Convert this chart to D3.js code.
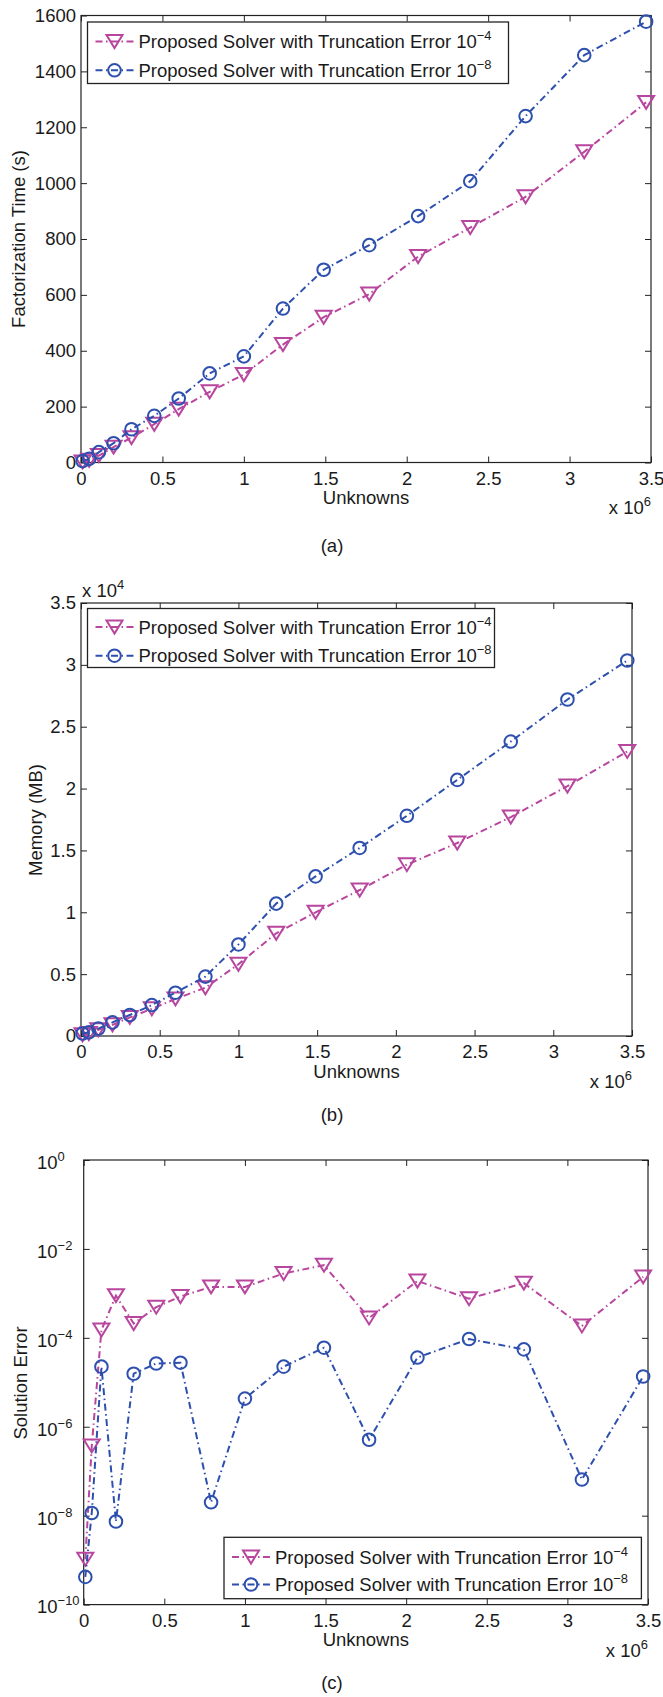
<!DOCTYPE html>
<html>
<head>
<meta charset="utf-8">
<script src="https://cdn.jsdelivr.net/npm/d3@7"></script>
<style>
  body { margin: 0; background: #fff; }
  text { font-family: "Liberation Sans", Arial, Helvetica, sans-serif; fill: #1a1a1a; }
</style>
</head>
<body>
<script>
// unknowns, in units of 10^6
const unknowns = [0.01, 0.05, 0.11, 0.2, 0.31, 0.45, 0.6, 0.79, 1.0, 1.24, 1.49, 1.77, 2.07, 2.39, 2.73, 3.09, 3.47];

// (a) factorization time (s)
const timeTol4 = [2, 8, 25, 55, 89, 137, 191, 253, 315, 422, 520, 603, 737, 841, 951, 1112, 1289];
const timeTol8 = [5, 13, 37, 69, 119, 167, 229, 319, 380, 551, 690, 778, 882, 1007, 1240, 1458, 1578];

// (b) memory (MB), in units of 10^4
const memTol4 = [0.01, 0.02, 0.05, 0.09, 0.15, 0.22, 0.30, 0.39, 0.58, 0.83, 1.00, 1.18, 1.385, 1.56, 1.77, 2.02, 2.30];
const memTol8 = [0.02, 0.03, 0.06, 0.11, 0.17, 0.25, 0.35, 0.48, 0.74, 1.07, 1.29, 1.52, 1.78, 2.07, 2.38, 2.72, 3.035];

// (c) solution error
const errTol4 = [1.05e-9, 3.7e-7, 1.5e-4, 8.9e-4, 2.1e-4, 4.9e-4, 8.5e-4, 1.4e-3, 1.4e-3, 2.8e-3, 4.3e-3, 2.8e-4, 1.9e-3, 7.6e-4, 1.7e-3, 1.85e-4, 2.35e-3];
const errTol8 = [4.2e-10, 1.15e-8, 2.25e-5, 7.4e-9, 1.56e-5, 2.65e-5, 2.76e-5, 2.0e-8, 4.3e-6, 2.25e-5, 6.0e-5, 5.1e-7, 3.6e-5, 9.4e-5, 5.5e-5, 6.5e-8, 1.35e-5];

const xTicks = [0, 0.5, 1, 1.5, 2, 2.5, 3, 3.5];
const timeTicks = [0, 200, 400, 600, 800, 1000, 1200, 1400, 1600];
const memTicks = [0, 0.5, 1, 1.5, 2, 2.5, 3, 3.5];
const errExps = [-10, -8, -6, -4, -2, 0];

const seriesNames = ['Proposed Solver with Truncation Error 10', 'Proposed Solver with Truncation Error 10'];
const seriesExps = ['\u22124', '\u22128'];
const colors = ['#b8469e', '#2d4fae'];
const shapes = ['tri', 'circ'];

const FS = 18.5;
const svg = d3.select('body').append('svg').attr('width', 663).attr('height', 1697);

function marker(sel, shape, color) {
  if (shape === 'tri') {
    sel.append('path').attr('d', 'M-8,-6.5L8,-6.5L0,6.5Z');
  } else {
    sel.append('circle').attr('r', 6.3);
  }
  sel.selectAll('path,circle').attr('fill', 'none').attr('stroke', color).attr('stroke-width', 2);
}

function supText(sel, base, sup, fs) {
  sel.append('tspan').text(base);
  sel.append('tspan').attr('dy', -8).attr('font-size', fs * 0.7).text(sup);
}

function drawPanel(o) {
  const g = svg.append('g');
  const x = d3.scaleLinear().domain([0, 3.5]).range([o.left, o.right]);
  const y = o.y;

  // ticks inward on four sides
  g.append('g').attr('transform', `translate(0,${o.bottom})`)
    .call(d3.axisBottom(x).tickValues(xTicks).tickSize(-6).tickSizeOuter(0).tickPadding(9).tickFormat(d3.format('')));
  g.append('g').attr('transform', `translate(0,${o.top})`)
    .call(d3.axisTop(x).tickValues(xTicks).tickSize(-6).tickSizeOuter(0).tickFormat(''));
  const ya = g.append('g').attr('transform', `translate(${o.left},0)`)
    .call(d3.axisLeft(y).tickValues(o.yTicks).tickSize(-6).tickSizeOuter(0).tickPadding(5)
      .tickFormat(o.yFormat || d3.format('')));
  g.append('g').attr('transform', `translate(${o.right},0)`)
    .call(d3.axisRight(y).tickValues(o.yTicks).tickSize(-6).tickSizeOuter(0).tickFormat(''));
  g.selectAll('.domain').remove();
  g.selectAll('.tick line').attr('stroke', '#222').attr('stroke-width', 1);
  g.selectAll('.tick text').attr('font-size', FS).attr('font-family', null).attr('fill', '#1a1a1a');

  if (o.logLabels) {
    ya.selectAll('.tick text').each(function (d) {
      const t = d3.select(this).text(null).attr('text-anchor', 'start')
        .attr('x', o.logLabelX - o.left).attr('dy', '0.45em');
      supText(t, '10', String(Math.round(Math.log10(d))).replace('-', '\u2212'), FS);
    });
  }

  g.append('rect').attr('x', o.left).attr('y', o.top)
    .attr('width', o.right - o.left).attr('height', o.bottom - o.top)
    .attr('fill', 'none').attr('stroke', '#222').attr('stroke-width', 1.2);

  // series
  const line = d3.line().x((d, i) => x(unknowns[i])).y(d => y(d));
  o.series.forEach((s, k) => {
    g.append('path').datum(s).attr('d', line).attr('fill', 'none')
      .attr('stroke', colors[k]).attr('stroke-width', 2)
      .attr('stroke-dasharray', '7,3.5,1.5,3.5');
    g.append('g').selectAll('g').data(s).join('g')
      .attr('transform', (d, i) => `translate(${x(unknowns[i])},${y(d)})`)
      .each(function () { marker(d3.select(this), shapes[k], colors[k]); });
  });

  // legend
  const L = o.legend;
  const lg = g.append('g');
  lg.append('rect').attr('x', L.x0).attr('y', L.y0).attr('width', L.x1 - L.x0).attr('height', L.y1 - L.y0)
    .attr('fill', '#fff').attr('stroke', '#222').attr('stroke-width', 1.3);
  L.rows.forEach((ry, k) => {
    lg.append('line').attr('x1', L.x0 + 8).attr('x2', L.x0 + 46).attr('y1', ry).attr('y2', ry)
      .attr('stroke', colors[k]).attr('stroke-width', 2).attr('stroke-dasharray', '7,3.5,1.5,3.5');
    marker(lg.append('g').attr('transform', `translate(${L.x0 + 27},${ry})`), shapes[k], colors[k]);
    const t = lg.append('text').attr('x', L.x0 + 51).attr('y', ry + 6.5).attr('font-size', FS);
    supText(t, seriesNames[k], seriesExps[k], FS);
  });

  // labels
  g.append('text').attr('x', (o.left + o.right) / 2).attr('y', o.xlabY)
    .attr('text-anchor', 'middle').attr('font-size', FS).text('Unknowns');
  const xe = g.append('text').attr('x', o.right).attr('y', o.xexpY).attr('text-anchor', 'end').attr('font-size', FS);
  supText(xe, 'x 10', '6', FS);
  g.append('text').attr('transform', `translate(${o.ylabX},${o.ylabY}) rotate(-90)`)
    .attr('text-anchor', 'middle').attr('font-size', FS).text(o.ylab);
  g.append('text').attr('x', 332).attr('y', o.capY).attr('text-anchor', 'middle')
    .attr('font-size', FS).text(o.cap);
  if (o.yexp) {
    const ye = g.append('text').attr('x', o.left + 1).attr('y', o.top - 6).attr('font-size', FS);
    supText(ye, 'x 10', o.yexp, FS);
  }
}

drawPanel({
  left: 81, right: 651, top: 15.5, bottom: 462.5,
  y: d3.scaleLinear().domain([0, 1600]).range([462.5, 15.5]),
  yTicks: timeTicks,
  series: [timeTol4, timeTol8],
  legend: { x0: 87.5, x1: 508.5, y0: 22, y1: 83.5, rows: [41.5, 70.3] },
  ylab: 'Factorization Time (s)', ylabX: 25, ylabY: 239,
  xlabY: 504, xexpY: 514, cap: '(a)', capY: 552
});

drawPanel({
  left: 81, right: 632, top: 603, bottom: 1036,
  y: d3.scaleLinear().domain([0, 3.5]).range([1036, 603]),
  yTicks: memTicks,
  series: [memTol4, memTol8],
  legend: { x0: 87.5, x1: 494.5, y0: 608.5, y1: 667.5, rows: [627, 655.7] },
  ylab: 'Memory (MB)', ylabX: 42, ylabY: 820, yexp: '4',
  xlabY: 1078, xexpY: 1088, cap: '(b)', capY: 1121
});

drawPanel({
  left: 83.7, right: 648, top: 1160, bottom: 1604.6,
  y: d3.scaleLog().domain([1e-10, 1]).range([1604.6, 1160]),
  yTicks: errExps.map(e => Math.pow(10, e)),
  yFormat: () => '', logLabels: true, logLabelX: 37,
  series: [errTol4, errTol8],
  legend: { x0: 224, x1: 641.4, y0: 1537.3, y1: 1598.7, rows: [1557, 1584.5] },
  ylab: 'Solution Error', ylabX: 27, ylabY: 1383,
  xlabY: 1646, xexpY: 1657, cap: '(c)', capY: 1689
});
</script>
</body>
</html>
